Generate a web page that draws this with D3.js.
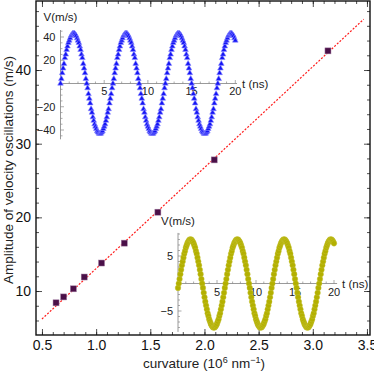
<!DOCTYPE html>
<html>
<head>
<meta charset="utf-8">
<script src="https://cdn.jsdelivr.net/npm/d3@7"></script>
<style>
	body { margin: 0; background: #fff; }
	svg { display: block; font-family: "Liberation Sans", Arial, sans-serif; }
	.tick-label { font-size: 14px; fill: #111; }
	.inset-label { font-size: 11px; fill: #222; }
	.axis-title { font-size: 13.5px; fill: #222; }
</style>
</head>
<body>
<div id="chart"></div>
<script>

///////////////////////////////////////////////////////////////////////////
//////////////////////////////// The data /////////////////////////////////
///////////////////////////////////////////////////////////////////////////

//Main plot: amplitude against curvature
var curvature = [0.63, 0.70, 0.79, 0.89, 1.05, 1.26, 1.57, 2.09, 3.14];
var amplitude = [8.4, 9.2, 10.3, 11.9, 13.8, 16.5, 20.7, 27.8, 42.6];

//End points of the dashed fit line
var fitCurvature = [0.5, 3.47];
var fitAmplitude = [6.2, 46.9];

//Tick labels
var xTicks = [0.5, 1.0, 1.5, 2.0, 2.5, 3.0, 3.5];
var yTicks = [10, 20, 30, 40];
var blueTTicks = [5, 10, 15, 20];
var blueVTicks = [-40, -20, 20, 40];
var yellowTTicks = [5, 10, 15, 20];
var yellowVTicks = [-5, 5];

//Inset waves, sampled every 0.1 ns from 0 to 20 ns
var sampleTimes = d3.range(201).map(function(i) { return i / 10; });

var blueV = [
	0,4,9,13,17,22,25,29,32,35,37,39,41,42,43,43,43,42,41,39,37,35,32,29,25,22,17,13,9,4,
	0,-4,-9,-13,-17,-22,-25,-29,-32,-35,-37,-39,-41,-42,-43,-43,-43,-42,-41,-39,-37,-35,-32,-29,-25,-22,-17,-13,-9,-4,
	0,4,9,13,17,22,25,29,32,35,37,39,41,42,43,43,43,42,41,39,37,35,32,29,25,22,17,13,9,4,
	0,-4,-9,-13,-17,-22,-25,-29,-32,-35,-37,-39,-41,-42,-43,-43,-43,-42,-41,-39,-37,-35,-32,-29,-25,-22,-17,-13,-9,-4,
	0,4,9,13,17,22,25,29,32,35,37,39,41,42,43,43,43,42,41,39,37,35,32,29,25,22,17,13,9,4,
	0,-4,-9,-13,-17,-22,-25,-29,-32,-35,-37,-39,-41,-42,-43,-43,-43,-42,-41,-39,-37,-35,-32,-29,-25,-22,-17,-13,-9,-4,
	0,4,9,13,17,22,25,29,32,35,37,39,41,42,43,43,43,42,41,39,37
];

var yellowV = [
	-0.8,
	0,0.8,1.7,2.5,3.3,4,4.7,5.4,5.9,6.5,6.9,7.3,7.6,7.8,8,8,8,7.8,7.6,7.3,6.9,6.5,5.9,5.4,4.7,4,3.3,2.5,1.7,0.8,
	0,-0.8,-1.7,-2.5,-3.3,-4,-4.7,-5.4,-5.9,-6.5,-6.9,-7.3,-7.6,-7.8,-8,-8,-8,-7.8,-7.6,-7.3,-6.9,-6.5,-5.9,-5.4,-4.7,-4,-3.3,-2.5,-1.7,-0.8,
	0,0.8,1.7,2.5,3.3,4,4.7,5.4,5.9,6.5,6.9,7.3,7.6,7.8,8,8,8,7.8,7.6,7.3,6.9,6.5,5.9,5.4,4.7,4,3.3,2.5,1.7,0.8,
	0,-0.8,-1.7,-2.5,-3.3,-4,-4.7,-5.4,-5.9,-6.5,-6.9,-7.3,-7.6,-7.8,-8,-8,-8,-7.8,-7.6,-7.3,-6.9,-6.5,-5.9,-5.4,-4.7,-4,-3.3,-2.5,-1.7,-0.8,
	0,0.8,1.7,2.5,3.3,4,4.7,5.4,5.9,6.5,6.9,7.3,7.6,7.8,8,8,8,7.8,7.6,7.3,6.9,6.5,5.9,5.4,4.7,4,3.3,2.5,1.7,0.8,
	0,-0.8,-1.7,-2.5,-3.3,-4,-4.7,-5.4,-5.9,-6.5,-6.9,-7.3,-7.6,-7.8,-8,-8,-8,-7.8,-7.6,-7.3,-6.9,-6.5,-5.9,-5.4,-4.7,-4,-3.3,-2.5,-1.7,-0.8,
	0,0.8,1.7,2.5,3.3,4,4.7,5.4,5.9,6.5,6.9,7.3,7.6,7.8,8,8,8,7.8,7.6,7.3
];

///////////////////////////////////////////////////////////////////////////
//////////////////////////// Set up the SVG ///////////////////////////////
///////////////////////////////////////////////////////////////////////////

var width = 374,
	height = 375;

var frame = { left: 36, right: 370, top: 1, bottom: 335 };

var svg = d3.select("#chart")
	.append("svg")
	.attr("width", width)
	.attr("height", height);

var x = d3.scaleLinear().domain([0.445, 3.528]).range([frame.left, frame.right]);
var y = d3.scaleLinear().domain([4.03, 49.37]).range([frame.bottom, frame.top]);

///////////////////////////////////////////////////////////////////////////
/////////////////////////////// Frame axes ////////////////////////////////
///////////////////////////////////////////////////////////////////////////

var xMinor = d3.range(5, 36).map(function(d) { return d / 10; });
var yMinor = d3.range(6, 50, 2);

function frameAxis(axisFn, scale, values, size, labels) {
	return axisFn(scale)
		.tickValues(values)
		.tickSize(-size)
		.tickPadding(labels ? 5 : 0)
		.tickFormat(labels ? d3.format(".1~f") : "");
}

//Bottom
svg.append("g").attr("transform", "translate(0," + frame.bottom + ")")
	.call(frameAxis(d3.axisBottom, x, xMinor, 3, false));
svg.append("g").attr("transform", "translate(0," + frame.bottom + ")")
	.call(frameAxis(d3.axisBottom, x, xTicks, 6, true).tickFormat(d3.format(".1f")));
//Top
svg.append("g").attr("transform", "translate(0," + frame.top + ")")
	.call(frameAxis(d3.axisTop, x, xMinor, 3, false));
svg.append("g").attr("transform", "translate(0," + frame.top + ")")
	.call(frameAxis(d3.axisTop, x, xTicks, 6, false));
//Left
svg.append("g").attr("transform", "translate(" + frame.left + ",0)")
	.call(frameAxis(d3.axisLeft, y, yMinor, 3, false));
svg.append("g").attr("transform", "translate(" + frame.left + ",0)")
	.call(frameAxis(d3.axisLeft, y, yTicks, 6, true).tickFormat(d3.format("d")));
//Right
svg.append("g").attr("transform", "translate(" + frame.right + ",0)")
	.call(frameAxis(d3.axisRight, y, yMinor, 3, false));
svg.append("g").attr("transform", "translate(" + frame.right + ",0)")
	.call(frameAxis(d3.axisRight, y, yTicks, 6, false));

svg.selectAll(".domain").remove();
svg.selectAll(".tick line").attr("stroke", "#222").attr("stroke-width", 0.8);
svg.selectAll(".tick text").attr("class", "tick-label").attr("font-family", null).attr("font-size", null);

svg.append("rect")
	.attr("x", frame.left)
	.attr("y", frame.top)
	.attr("width", frame.right - frame.left)
	.attr("height", frame.bottom - frame.top)
	.style("fill", "none")
	.style("stroke", "#111")
	.style("stroke-width", 1.4);

//Axis titles
var xTitle = svg.append("text")
	.attr("class", "axis-title")
	.attr("x", 204)
	.attr("y", 368)
	.attr("text-anchor", "middle");
xTitle.append("tspan").text("curvature (10");
xTitle.append("tspan").attr("dy", -5).style("font-size", "9px").text("6");
xTitle.append("tspan").attr("dy", 5).text(" nm");
xTitle.append("tspan").attr("dy", -5).style("font-size", "9px").text("\u22121");
xTitle.append("tspan").attr("dy", 5).text(")");

svg.append("text")
	.attr("class", "axis-title")
	.attr("transform", "translate(13," + 170 + ") rotate(-90)")
	.attr("text-anchor", "middle")
	.text("Amplitude of velocity oscillations (m/s)");

///////////////////////////////////////////////////////////////////////////
/////////////////////////// Fit line & points /////////////////////////////
///////////////////////////////////////////////////////////////////////////

svg.append("line")
	.attr("x1", x(fitCurvature[0]))
	.attr("y1", y(fitAmplitude[0]))
	.attr("x2", x(fitCurvature[1]))
	.attr("y2", y(fitAmplitude[1]))
	.style("stroke", "#ff1a1a")
	.style("stroke-width", 1.2)
	.style("stroke-dasharray", "2,1.6");

svg.selectAll(".point")
	.data(curvature)
	.enter().append("rect")
	.attr("class", "point")
	.attr("x", function(d) { return x(d) - 3; })
	.attr("y", function(d, i) { return y(amplitude[i]) - 3; })
	.attr("width", 6)
	.attr("height", 6)
	.style("fill", "#4a1048")
	.style("stroke", "#a07aa0")
	.style("stroke-width", 0.5);

///////////////////////////////////////////////////////////////////////////
//////////////////////////////// Insets ///////////////////////////////////
///////////////////////////////////////////////////////////////////////////

function drawInset(opt) {
	var g = svg.append("g");
	var tx = d3.scaleLinear().domain([0, 20]).range(opt.tRange);
	var vy = d3.scaleLinear().domain(opt.vDomain).range(opt.vRange);

	//Axis lines
	g.append("line")
		.attr("x1", tx(0)).attr("x2", tx(opt.tEnd))
		.attr("y1", vy(0)).attr("y2", vy(0))
		.style("stroke", "#9a9a9a").style("stroke-width", 1);
	g.append("line")
		.attr("x1", tx(0)).attr("x2", tx(0))
		.attr("y1", vy(opt.vTop)).attr("y2", vy(opt.vBottom))
		.style("stroke", "#9a9a9a").style("stroke-width", 1);

	//Minor & major ticks on the t axis
	g.selectAll(".t-tick")
		.data(d3.range(1, 21))
		.enter().append("line")
		.attr("x1", function(d) { return tx(d); })
		.attr("x2", function(d) { return tx(d); })
		.attr("y1", vy(0))
		.attr("y2", function(d) { return vy(0) - (d % 5 === 0 ? 3.5 : 2); })
		.style("stroke", "#888").style("stroke-width", 0.7);

	//Ticks on the V axis
	g.selectAll(".v-tick")
		.data(opt.vMinor)
		.enter().append("line")
		.attr("x1", tx(0))
		.attr("x2", function(d) { return tx(0) + (opt.vTicks.indexOf(d) >= 0 ? 3.5 : 2); })
		.attr("y1", function(d) { return vy(d); })
		.attr("y2", function(d) { return vy(d); })
		.style("stroke", "#888").style("stroke-width", 0.7);

	//Tick labels
	g.selectAll(".t-label")
		.data(opt.tTicks)
		.enter().append("text")
		.attr("class", "inset-label")
		.attr("x", function(d) { return tx(d); })
		.attr("y", vy(0) + opt.tLabelOffset)
		.attr("text-anchor", "middle")
		.text(function(d) { return d; });

	g.selectAll(".v-label")
		.data(opt.vTicks)
		.enter().append("text")
		.attr("class", "inset-label")
		.attr("x", tx(0) - 5)
		.attr("y", function(d) { return vy(d); })
		.attr("dy", "0.35em")
		.attr("text-anchor", "end")
		.text(function(d) { return d < 0 ? "\u2212" + Math.abs(d) : d; });

	g.append("text")
		.attr("class", "inset-label")
		.attr("x", tx(0))
		.attr("y", opt.vTitleY)
		.attr("text-anchor", "middle")
		.style("font-size", "11.5px")
		.text("V(m/s)");

	g.append("text")
		.attr("class", "inset-label")
		.attr("x", tx(opt.tEnd) + 5)
		.attr("y", vy(0) + 4)
		.style("font-size", "11.5px")
		.text("t (ns)");

	//The wave markers
	var markers = g.selectAll(".marker")
		.data(sampleTimes)
		.enter();
	if (opt.shape === "triangle") {
		markers.append("path")
			.attr("d", d3.symbol(d3.symbolTriangle).size(14))
			.attr("transform", function(d, i) { return "translate(" + tx(d) + "," + vy(opt.values[i]) + ")"; })
			.style("fill", opt.color)
			.style("stroke", opt.edge)
			.style("stroke-width", 0.6);
	} else {
		markers.append("circle")
			.attr("cx", function(d) { return tx(d); })
			.attr("cy", function(d, i) { return vy(opt.values[i]); })
			.attr("r", 2.8)
			.style("fill", opt.color)
			.style("stroke", opt.edge)
			.style("stroke-width", 0.4);
	}
}//function drawInset

drawInset({
	values: blueV,
	tRange: [60.5, 235.3],
	vDomain: [-40, 40],
	vRange: [130, 37],
	tEnd: 20.2,
	vTop: 46,
	vBottom: -48,
	tTicks: blueTTicks,
	vTicks: blueVTicks,
	vMinor: d3.range(-45, 50, 5).filter(function(d) { return d !== 0; }),
	tLabelOffset: 11,
	vTitleY: 21,
	shape: "triangle",
	color: "#1414f5",
	edge: "#8c8cff"
});

drawInset({
	values: yellowV,
	tRange: [178, 334],
	vDomain: [-5, 5],
	vRange: [311, 256],
	tEnd: 20.4,
	vTop: 9.2,
	vBottom: -8.8,
	tTicks: yellowTTicks,
	vTicks: yellowVTicks,
	vMinor: d3.range(-8, 10, 1).filter(function(d) { return d !== 0; }),
	tLabelOffset: 12,
	vTitleY: 225,
	shape: "circle",
	color: "#b3b000",
	edge: "#c8c640"
});

</script>
</body>
</html>
